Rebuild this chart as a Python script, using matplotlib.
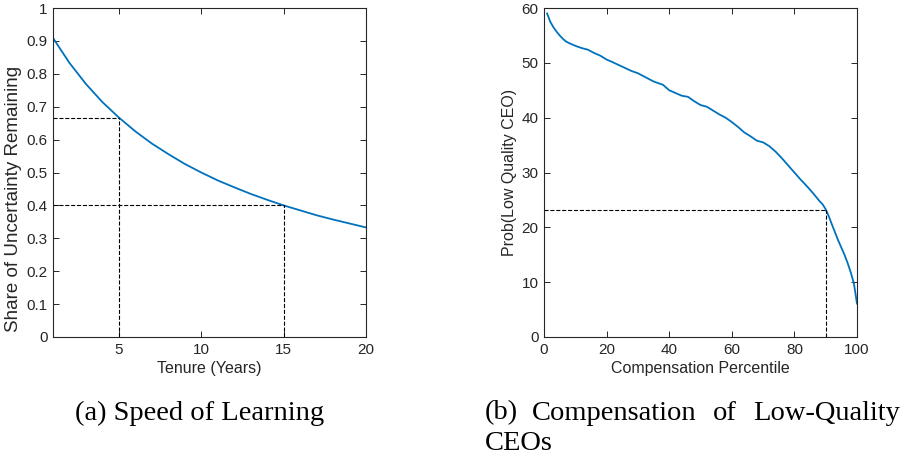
"""
Two panels: speed of learning (share of uncertainty left by tenure)
and probability of a low-quality CEO by compensation percentile.
"""
import matplotlib
matplotlib.use("Agg")
import matplotlib.pyplot as plt
from matplotlib.ticker import FormatStrFormatter

# ----- data: panel (a) -----
tenure = [1, 2, 3, 4, 5, 6, 7, 8, 9, 10, 11, 12, 13, 14, 15, 16, 17, 18, 19, 20]
share_left = [0.909, 0.833, 0.769, 0.714, 0.667, 0.625, 0.588, 0.556, 0.526, 0.500,
              0.476, 0.455, 0.435, 0.417, 0.400, 0.385, 0.370, 0.357, 0.345, 0.333]
tenure_marks = [5, 15]
share_marks = [0.667, 0.400]

# ----- data: panel (b) -----
pctile = [1, 2, 3, 4, 5, 6, 7, 8, 10, 12, 14, 16, 18, 20, 22, 25, 28, 30, 32, 35,
          38, 40, 42, 44, 46, 48, 50, 52, 54, 56, 58, 60, 62, 64, 66, 68, 70, 72,
          74, 76, 78, 80, 82, 84, 86, 88, 89, 90, 91, 92, 94, 96, 97, 98, 99, 100]
prob_low = [59.0, 57.5, 56.5, 55.7, 55.0, 54.4, 53.9, 53.6, 53.1, 52.7, 52.4, 51.8,
            51.3, 50.6, 50.1, 49.3, 48.5, 48.1, 47.5, 46.6, 46.0, 45.0, 44.5, 44.0,
            43.8, 43.0, 42.3, 42.0, 41.3, 40.6, 40.0, 39.2, 38.3, 37.3, 36.6, 35.8,
            35.5, 34.8, 33.8, 32.6, 31.3, 30.0, 28.7, 27.5, 26.2, 24.8, 24.2, 23.3,
            22.0, 20.5, 17.6, 15.0, 13.5, 11.8, 9.8, 6.1]
pctile_mark = 90
prob_mark = 23.2

BLUE = "#0072BD"
AXC = "#262626"

plt.rcParams["font.family"] = ["Liberation Sans", "DejaVu Sans"]
plt.rcParams["font.size"] = 11

fig = plt.figure(figsize=(9.04, 4.58), dpi=100)
ax_a = fig.add_axes([53 / 904, 1 - 337 / 458, 313 / 904, 329 / 458])
ax_b = fig.add_axes([544 / 904, 1 - 337 / 458, 313 / 904, 329 / 458])


def matlab_style(ax):
    for sp in ax.spines.values():
        sp.set_color(AXC)
        sp.set_linewidth(0.8)
    ax.tick_params(direction="in", top=True, right=True, length=4,
                   width=0.7, colors=AXC, labelsize=11, pad=4)


# ----- left: speed of learning -----
ax_a.plot(tenure, share_left, color=BLUE, linewidth=1.3)
for t, s in zip(tenure_marks, share_marks):
    ax_a.plot([tenure[0], t], [s, s], color="k", linestyle="--", linewidth=0.8)
    ax_a.plot([t, t], [0, s], color="k", linestyle="--", linewidth=0.8)
ax_a.set_xlim(1, 20)
ax_a.set_ylim(0, 1)
ax_a.set_xticks([5, 10, 15, 20])
ax_a.set_yticks([i / 10 for i in range(11)])
ax_a.yaxis.set_major_formatter(FormatStrFormatter("%g"))
ax_a.set_xlabel("Tenure (Years)", color=AXC, fontsize=11.5, labelpad=3)
ax_a.set_ylabel("Share of Uncertainty Remaining", color=AXC, fontsize=13.5)
ax_a.yaxis.set_label_coords(-0.100, 0.42)
matlab_style(ax_a)

# ----- right: compensation of low-quality CEOs -----
ax_b.plot(pctile, prob_low, color=BLUE, linewidth=1.3)
ax_b.plot([0, pctile_mark], [prob_mark, prob_mark], color="k", linestyle="--",
          linewidth=0.8)
ax_b.plot([pctile_mark, pctile_mark], [0, prob_mark], color="k", linestyle="--",
          linewidth=0.8)
ax_b.set_xlim(0, 100)
ax_b.set_ylim(0, 60)
ax_b.set_xticks(range(0, 101, 20))
ax_b.set_yticks(range(0, 61, 10))
ax_b.set_xlabel("Compensation Percentile", color=AXC, fontsize=11.5, labelpad=3)
ax_b.set_ylabel("Prob(Low Quality CEO)", color=AXC, fontsize=11.5)
ax_b.yaxis.set_label_coords(-0.085, 0.5)
matlab_style(ax_b)

# ----- captions -----
cap = dict(family=["Liberation Serif", "DejaVu Serif"], fontsize=20.5,
           color="black", va="center")
fig.text(200 / 904, 1 - 413 / 458, "(a) Speed of Learning", ha="center", **cap)
for word, xpx in [("(b)", 485), ("Compensation", 532), ("of", 713),
                  ("Low-Quality", 753)]:
    fig.text(xpx / 904, 1 - 413 / 458, word, ha="left", **cap)
fig.text(485 / 904, 1 - 443 / 458, "CEOs", ha="left", **cap)

fig.savefig("out.png", dpi=100)
